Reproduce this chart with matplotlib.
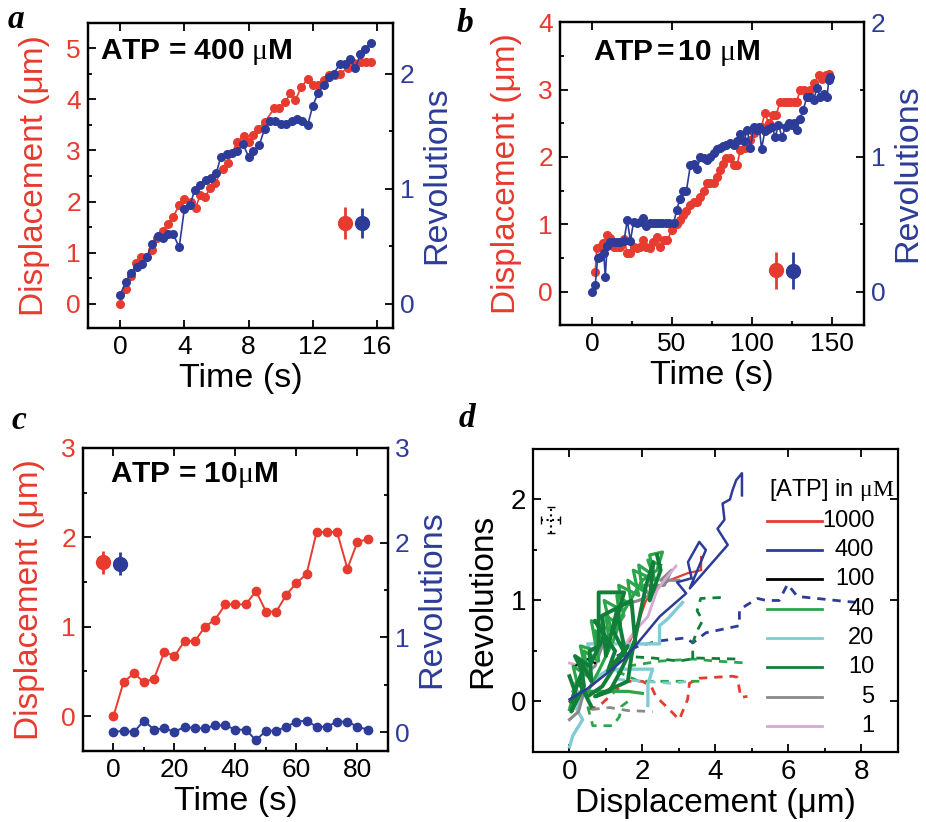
import numpy as np
import matplotlib.pyplot as plt
from matplotlib.ticker import MultipleLocator

plt.rcParams['font.family'] = ['Liberation Sans', 'DejaVu Sans']
plt.rcParams['mathtext.fontset'] = 'custom'
plt.rcParams['mathtext.rm'] = 'Liberation Serif'
plt.rcParams['mathtext.it'] = 'Liberation Serif'
plt.rcParams['mathtext.bf'] = 'Liberation Serif'

RED = '#E63B2E'
BLUE = '#2D3C98'

# ---- panel a : ATP = 400 uM ----
a_t_red = [0.0, 0.37, 0.7, 1.0, 1.3, 1.6, 2.0, 2.3, 2.65, 3.0, 3.3, 3.7, 4.0, 4.4, 4.7,
           5.0, 5.3, 5.6, 5.9, 6.4, 6.7, 7.3, 7.7, 8.0, 8.3, 8.6, 9.0, 9.6, 9.9, 10.3,
           10.6, 10.9, 11.3, 11.7, 12.0, 12.3, 12.7, 13.0, 13.4, 13.7, 14.2, 14.6,
           15.0, 15.3, 15.6]
a_disp = [0.00, 0.29, 0.55, 0.80, 0.92, 0.92, 1.05, 1.28, 1.43, 1.57, 1.70, 1.94, 2.05,
          2.00, 1.88, 2.13, 2.09, 2.26, 2.36, 2.64, 2.76, 3.17, 3.28, 3.17, 3.30, 3.42,
          3.55, 3.82, 3.82, 3.95, 4.12, 3.98, 4.24, 4.40, 4.28, 4.28, 4.38, 4.48, 4.47,
          4.50, 4.62, 4.70, 4.73, 4.73, 4.73]
a_t_blue = [0.0, 0.37, 0.69, 1.04, 1.35, 1.66, 2.0, 2.35, 2.7, 3.0, 3.3, 3.68, 4.0, 4.37,
            4.64, 5.0, 5.34, 5.65, 6.0, 6.28, 6.65, 7.0, 7.3, 7.65, 8.0, 8.3, 8.67, 9.0,
            9.35, 9.67, 10.0, 10.33, 10.7, 11.0, 11.33, 11.68, 12.0, 12.33, 12.68, 13.0,
            13.3, 13.68, 14.0, 14.3, 14.66, 14.97, 15.28, 15.63]
a_rev = [0.08, 0.19, 0.27, 0.32, 0.35, 0.41, 0.52, 0.59, 0.57, 0.61, 0.61, 0.49, 0.82,
         0.86, 0.99, 1.03, 1.08, 1.09, 1.14, 1.28, 1.30, 1.31, 1.33, 1.39, 1.28, 1.33,
         1.38, 1.52, 1.59, 1.59, 1.56, 1.56, 1.59, 1.61, 1.59, 1.55, 1.72, 1.83, 1.90,
         1.97, 2.00, 2.08, 2.08, 2.13, 2.05, 2.17, 2.21, 2.27]
a_err = [(14.0, 1.58, 0.32), (15.1, 0.70, 0.13)]

# ---- panel b : ATP = 10 uM ----
b_t_red = [2, 3, 5, 7, 9.4, 11.5, 13.5, 15.5, 17.5, 20, 22, 24, 26, 28, 30, 32, 34, 36,
           38, 40.6, 42.7, 44.8, 47, 50, 53, 55, 57, 59, 61.5, 63.5, 65.6, 67.7, 69.8,
           72, 74, 76, 78, 80, 82, 84, 86.5, 88.5, 90.6, 92.7, 95.8, 99, 101, 104, 106,
           108, 110.5, 113, 115, 117.7, 120, 122, 124, 126, 128, 130, 132.5, 134.5,
           136.5, 138.5, 141.7, 144, 146, 148]
b_disp = [0.30, 0.65, 0.67, 0.72, 0.84, 0.80, 0.67, 0.67, 0.67, 0.79, 0.57, 0.57, 0.67,
          0.65, 0.67, 0.77, 0.67, 0.65, 0.74, 0.82, 0.67, 0.77, 0.77, 0.92, 1.00, 1.07,
          1.14, 1.20, 1.29, 1.34, 1.34, 1.41, 1.50, 1.61, 1.61, 1.61, 1.70, 1.80, 1.90,
          1.98, 1.98, 1.88, 1.88, 2.10, 2.13, 2.25, 2.35, 2.42, 2.45, 2.65, 2.50, 2.62,
          2.62, 2.82, 2.82, 2.82, 2.82, 2.82, 2.82, 2.99, 2.99, 2.95, 3.00, 3.09, 3.21,
          3.15, 3.21, 3.23]
b_t_blue = [0, 2, 3.5, 5, 7.3, 8.3, 9.4, 11.5, 13.5, 15.5, 17.5, 20, 22, 24, 26, 28, 30,
            32, 34, 36, 38, 40, 42, 44, 46, 48, 51, 53, 55, 57, 59, 61.5, 63.5, 65.6,
            67.7, 69.8, 72, 74, 76, 78, 80, 82, 84, 86.5, 88.5, 90.6, 92.7, 95, 97, 99,
            101, 103, 104.5, 106, 108, 110, 112.5, 114.6, 116.5, 118.7, 121, 123, 125,
            126.5, 128, 130, 132, 134.4, 136.5, 138.5, 140.6, 142.7, 144.8, 146.9, 148,
            149]
b_rev = [0.00, 0.05, 0.25, 0.26, 0.29, 0.11, 0.34, 0.37, 0.37, 0.37, 0.37, 0.38, 0.53,
         0.38, 0.52, 0.51, 0.52, 0.545, 0.49, 0.51, 0.51, 0.51, 0.51, 0.51, 0.51, 0.51,
         0.51, 0.61, 0.69, 0.75, 0.75, 0.94, 0.95, 0.91, 1.00, 0.99, 0.98, 1.00, 1.03,
         1.06, 1.07, 1.08, 1.09, 1.10, 1.09, 1.12, 1.17, 1.12, 1.20, 1.07, 1.22, 1.20,
         1.22, 1.06, 1.19, 1.21, 1.22, 1.15, 1.24, 1.15, 1.22, 1.25, 1.24, 1.25, 1.20,
         1.28, 1.35, 1.445, 1.445, 1.42, 1.51, 1.445, 1.47, 1.445, 1.57, 1.59]
b_err = [(115.2, 0.32, 0.27), (125.6, 0.158, 0.136)]

# ---- panel c : ATP = 10 uM, no rotation ----
c_t = [0, 3.3, 6.7, 10, 13.3, 16.7, 20, 23.3, 26.7, 30, 33.3, 36.7, 40, 43.4, 46.7, 50,
       53.4, 56.7, 60, 63.3, 66.6, 70, 73.3, 76.7, 80, 83.4]
c_disp = [0.00, 0.38, 0.48, 0.38, 0.42, 0.72, 0.67, 0.84, 0.84, 1.00, 1.08, 1.25, 1.25,
          1.25, 1.40, 1.17, 1.17, 1.36, 1.49, 1.59, 2.06, 2.06, 2.06, 1.65, 1.95, 1.98]
c_rev = [0.00, 0.014, 0.00, 0.12, 0.025, 0.04, 0.00, 0.056, 0.04, 0.04, 0.07, 0.07,
         0.025, 0.025, -0.087, 0.014, 0.014, 0.056, 0.11, 0.12, 0.056, 0.056, 0.11,
         0.11, 0.056, 0.025]
c_err = [(-3.5, 1.72, 0.13), (2.2, 1.78, 0.12)]

# ---- panel d : revolutions vs displacement, traces per [ATP] ----
d1000_x = [0.0, 0.6, 1.2, 1.6, 1.9, 2.1, 2.4, 2.74, 3.24, 3.61, 3.61]
d1000_y = [0.0, 0.15, 0.35, 0.55, 0.8, 1.0, 1.12, 1.2, 1.27, 1.30, 1.43]
d400_x = [0.0, 0.5, 1.0, 1.5, 1.92, 2.47, 3.2, 2.95, 3.35, 3.25, 3.56, 3.74, 3.3, 4.34,
          4.06, 4.25, 4.2, 4.4, 4.47, 4.57, 4.73, 4.73]
d400_y = [0.02, 0.13, 0.27, 0.42, 0.6, 0.84, 1.07, 1.18, 1.22, 1.38, 1.58, 1.5, 1.12,
          1.55, 1.71, 1.8, 1.96, 2.0, 2.09, 2.19, 2.26, 2.04]
d100_x = [0.15, 0.5, 0.7]
d100_y = [0.35, 0.42, 0.38]
d40_x = [0.0, 0.2, 0.1, 0.5, 0.4, 0.8, 0.7, 1.1, 1.0, 1.4, 1.3, 1.7, 1.6, 2.0, 1.9, 2.3,
         2.2, 2.55, 2.4, 2.0, 1.5, 1.2, 0.8, 0.5, 1.0, 1.6, 2.0]
d40_y = [-0.08, 0.2, 0.35, 0.25, 0.5, 0.4, 0.7, 0.55, 0.85, 0.75, 1.05, 0.95, 1.2, 1.1,
         1.35, 1.25, 1.45, 1.48, 1.3, 1.2, 0.9, 0.6, 0.3, 0.1, 0.1, 0.1, 0.08]
d40b_x = [0.1, 0.45, 0.3, 0.75, 0.6, 1.15, 0.95, 1.45, 1.35, 1.9, 1.75, 2.35, 2.15, 2.5]
d40b_y = [0.1, 0.3, 0.55, 0.5, 0.8, 0.7, 1.0, 0.9, 1.15, 1.05, 1.3, 1.2, 1.4, 1.35]
d20_x = [0.0, 0.09, 0.36, 0.2, 0.35, 0.1, 0.4, 0.6, 0.5, 1.3, 2.47, 2.47, 2.7, 3.1]
d20_y = [-0.45, -0.34, -0.18, -0.08, 0.05, 0.15, 0.3, 0.45, 0.57, 0.57, 0.57, 0.75,
         0.82, 0.98]
d20b_x = [0.6, 1.0, 1.37, 2.28, 2.15, 2.15]
d20b_y = [0.2, 0.3, 0.32, 0.32, 0.17, -0.04]
d10_x = [0.0, 0.2, 0.05, 0.4, 0.3, 0.6, 0.55, 0.8, 0.8, 1.5, 1.2, 1.55, 1.3, 1.0, 0.9,
         1.7, 1.8, 1.4, 1.1, 0.7, 1.6, 1.7, 2.1, 2.3, 2.2, 2.5, 2.4]
d10_y = [0.25, 0.05, -0.1, 0.15, 0.4, 0.2, 0.5, 0.55, 1.08, 1.08, 0.7, 0.45, 0.9, 0.45,
         0.85, 1.0, 0.6, 0.3, 0.1, 0.05, 0.2, 0.45, 1.15, 1.38, 1.0, 1.3, 1.45]
d10b_x = [0.05, 0.35, 0.15, 0.55, 0.95, 0.7, 1.25, 1.05, 1.6, 0.9, 0.5, 0.25, 0.6]
d10b_y = [0.0, 0.3, 0.45, 0.35, 0.65, 0.8, 0.5, 0.3, 0.55, 0.15, 0.05, 0.2, -0.05]
d5_x = [0.0, 0.25, 0.4, 0.3, 0.7, 0.9, 1.2, 1.5, 1.4, 1.9, 2.2, 2.0, 2.6, 2.8, 2.5, 3.0]
d5_y = [-0.18, -0.1, 0.1, 0.25, 0.35, 0.55, 0.7, 0.85, 0.95, 1.0, 1.05, 1.15, 1.15,
        1.3, 1.2, 1.2]
d1_x = [1.5, 1.8, 2.15, 2.4, 2.6, 2.92]
d1_y = [0.55, 0.7, 0.84, 1.1, 1.2, 1.34]
d1b_x = [0.0, 0.3]
d1b_y = [0.38, 0.35]

# uncorrelated (dashed) traces
dd_red_x = [0.5, 0.8, 1.1, 1.55, 2.0, 2.24, 2.37, 2.74, 3.01, 3.24, 3.29, 3.56, 4.47,
            4.6, 4.70, 4.88]
dd_red_y = [-0.08, -0.05, 0.05, 0.2, 0.2, 0.15, 0.05, -0.08, -0.18, 0.02, 0.18, 0.23,
            0.25, 0.24, 0.04, 0.05]
dd_blue_x = [1.3, 1.9, 2.47, 3.2, 3.38, 3.74, 4.66, 4.66, 4.93, 5.16, 5.39, 5.75, 5.98,
             6.25, 7.58, 7.95]
dd_blue_y = [0.45, 0.55, 0.6, 0.63, 0.58, 0.68, 0.75, 0.91, 0.97, 1.02, 1.0, 1.0, 1.16,
             1.04, 0.99, 0.98]
dd_g1_x = [1.6, 2.5, 3.4, 4.0, 4.9]
dd_g1_y = [0.35, 0.4, 0.42, 0.4, 0.38]
dd_g2_x = [1.4, 2.3, 3.0, 3.5, 4.6]
dd_g2_y = [0.45, 0.43, 0.4, 0.43, 0.42]
dd_g3_x = [3.38, 3.38, 3.5, 3.65, 3.5, 3.6, 4.2]
dd_g3_y = [0.42, 0.58, 0.7, 0.8, 0.9, 1.02, 1.03]
dd_g4_x = [1.3, 1.9, 3.6]
dd_g4_y = [0.3, 0.2, 0.2]
dd_g5_x = [0.5, 0.64, 1.19, 1.37, 1.42, 1.6]
dd_g5_y = [-0.05, -0.24, -0.24, -0.15, -0.05, 0.0]
dd_cyan_x = [1.3, 2.0, 2.8, 3.3]
dd_cyan_y = [0.22, 0.2, 0.18, 0.2]
dd_gray_x = [0.6, 1.1, 1.6, 2.28]
dd_gray_y = [-0.08, -0.06, -0.09, -0.1]

atp_labels = ['1000', '400', '100', '40', '20', '10', '5', '1']
atp_colors = [RED, BLUE, 'black', '#2AA64A', '#80CCD2', '#117E3A', '#8A8A8A', '#D8A8D4']


def set_ticks(ax, xmaj, xmin, size=19):
    ax.xaxis.set_major_locator(MultipleLocator(xmaj))
    if xmin:
        ax.xaxis.set_minor_locator(MultipleLocator(xmin))
    ax.tick_params(which='both', direction='in', width=1.3, labelsize=size, pad=5)
    ax.tick_params(which='major', length=6)
    ax.tick_params(which='minor', length=3)
    for s in ax.spines.values():
        s.set_linewidth(1.6)


def twin_panel(rect, t_r, y_r, t_b, y_b, err, xlim, ylim_l, ylim_r, xmaj, xmin,
               ytop_l, ytop_r, note, note_xy, ms=5.5, lw=1.2):
    ax = fig.add_axes(rect)
    ax2 = ax.twinx()
    ax.plot(t_r, y_r, '-o', color=RED, ms=ms, lw=lw)
    ax2.plot(t_b, y_b, '-o', color=BLUE, ms=ms, lw=lw)
    ax.errorbar(err[0][0], err[0][1], yerr=err[0][2], fmt='o', color=RED, ms=10,
                elinewidth=2, capsize=0)
    ax2.errorbar(err[1][0], err[1][1], yerr=err[1][2], fmt='o', color=BLUE, ms=10,
                 elinewidth=2, capsize=0)
    ax.set_xlim(*xlim)
    ax.set_ylim(*ylim_l)
    ax2.set_ylim(*ylim_r)
    set_ticks(ax, xmaj, xmin)
    set_ticks(ax2, xmaj, xmin)
    ax.tick_params(top=True, right=False)
    ax.yaxis.set_major_locator(MultipleLocator(1))
    ax.yaxis.set_minor_locator(MultipleLocator(0.5))
    ax2.yaxis.set_major_locator(MultipleLocator(1))
    ax2.yaxis.set_minor_locator(MultipleLocator(0.5))
    ax.set_yticks(np.arange(0, ytop_l + 0.01, 1))
    ax2.set_yticks(np.arange(0, ytop_r + 0.01, 1))
    ax.tick_params(axis='y', labelcolor=RED)
    ax2.tick_params(axis='y', labelcolor=BLUE)
    ax.set_xlabel('Time (s)', fontsize=24.5, labelpad=3)
    ax.set_ylabel('Displacement (μm)', fontsize=24, color=RED, labelpad=12)
    ax2.set_ylabel('Revolutions', fontsize=24.5, color=BLUE, labelpad=5)
    ax.text(note_xy[0], note_xy[1], note, transform=ax.transAxes, fontsize=21.5,
            fontweight='bold', va='center')
    return ax, ax2


fig = plt.figure(figsize=(9.26, 8.22), dpi=100)

twin_panel([0.095, 0.601, 0.3294, 0.371], a_t_red, a_disp, a_t_blue, a_rev, a_err,
           (-2, 17), (-0.47, 5.49), (-0.21, 2.44), 4, None, 5, 2,
           r'ATP = 400 $\mu$M', (0.039, 0.905))
twin_panel([0.6048, 0.6046, 0.3282, 0.3686], b_t_red, b_disp, b_t_blue, b_rev, b_err,
           (-20, 170), (-0.49, 4.0), (-0.245, 2.0), 50, 25, 4, 2,
           r'ATP$\,$=$\,$10 $\mu$M', (0.109, 0.898))
twin_panel([0.0896, 0.0864, 0.3294, 0.3686], c_t, c_disp, c_t, c_rev, c_err,
           (-10, 90), (-0.39, 3.0), (-0.2, 3.0), 20, 10, 3, 3,
           r'ATP = 10$\mu$M', (0.089, 0.91), ms=6, lw=1.4)

# panel d
axd = fig.add_axes([0.5756, 0.0852, 0.3938, 0.3686])
solid = [(d1000_x, d1000_y, RED, 1.6), (d20_x, d20_y, atp_colors[4], 2.4),
         (d20b_x, d20b_y, atp_colors[4], 2.4), (d5_x, d5_y, atp_colors[6], 2.2),
         (d1_x, d1_y, atp_colors[7], 2.0), (d1b_x, d1b_y, atp_colors[7], 2.0),
         (d100_x, d100_y, 'black', 1.5), (d40_x, d40_y, atp_colors[3], 2.3),
         (d40b_x, d40b_y, atp_colors[3], 2.3), (d10b_x, d10b_y, atp_colors[5], 2.8),
         (d10_x, d10_y, atp_colors[5], 2.8), (d400_x, d400_y, BLUE, 1.8)]
dashed = [(dd_red_x, dd_red_y, RED), (dd_blue_x, dd_blue_y, BLUE),
          (dd_g1_x, dd_g1_y, atp_colors[3]), (dd_g2_x, dd_g2_y, atp_colors[5]),
          (dd_g3_x, dd_g3_y, atp_colors[5]), (dd_g4_x, dd_g4_y, atp_colors[3]),
          (dd_g5_x, dd_g5_y, atp_colors[3]), (dd_cyan_x, dd_cyan_y, atp_colors[4]),
          (dd_gray_x, dd_gray_y, atp_colors[6])]
for x, y, c in dashed:
    axd.plot(x, y, color=c, lw=2, ls=(0, (3, 2.5)))
for x, y, c, w in solid:
    axd.plot(x, y, color=c, lw=w)

eb = axd.errorbar(-0.52, 1.80, xerr=0.26, yerr=0.13, fmt='none', ecolor='black',
                  elinewidth=1.5, capsize=3)
for lc in eb[2]:
    lc.set_linestyle(':')

axd.set_xlim(-1, 9)
axd.set_ylim(-0.5, 2.5)
set_ticks(axd, 2, 1, size=20)
axd.yaxis.set_major_locator(MultipleLocator(1))
axd.yaxis.set_minor_locator(MultipleLocator(0.5))
axd.tick_params(top=True, right=True)
axd.set_xlabel('Displacement (μm)', fontsize=24, labelpad=2)
axd.set_ylabel('Revolutions', fontsize=24, labelpad=9)

# legend drawn by hand
axd.text(0.648, 0.863, r'[ATP] in $\mu\mathrm{M}$', transform=axd.transAxes,
         fontsize=17, va='center')
for i, (lab, c) in enumerate(zip(atp_labels, atp_colors)):
    yy = 0.763 - i * 0.0967
    axd.plot([0.642, 0.792], [yy, yy], color=c, lw=2, transform=axd.transAxes)
    axd.text(0.936, yy, lab, transform=axd.transAxes, fontsize=17, ha='right',
             va='center')

for lab, x, y in [('a', 0.017, 0.976), ('b', 0.502, 0.972), ('c', 0.02, 0.489),
                  ('d', 0.504, 0.491)]:
    fig.text(x, y, lab, fontsize=24, fontweight='bold', fontstyle='italic',
             family='Liberation Serif', ha='center', va='center')

fig.savefig('out.png', dpi=100)
